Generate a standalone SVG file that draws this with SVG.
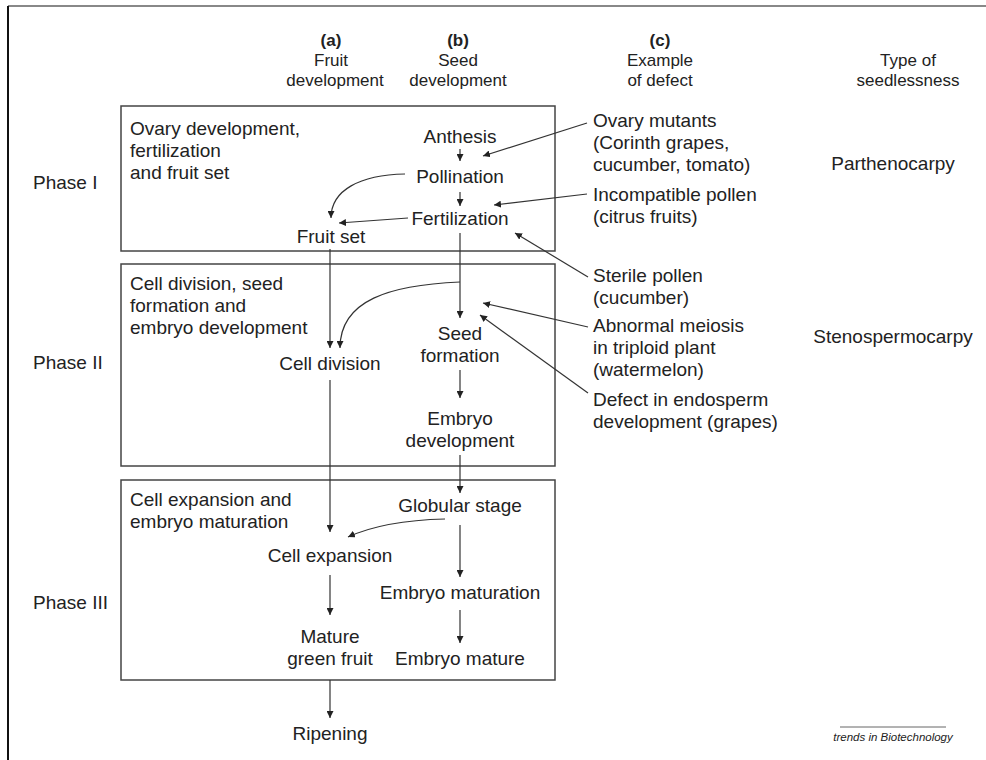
<svg xmlns="http://www.w3.org/2000/svg" width="986" height="760" viewBox="0 0 986 760">
<defs>
<marker id="ah" viewBox="0 0 10 10" refX="10" refY="5" markerWidth="7" markerHeight="7" markerUnits="userSpaceOnUse" orient="auto">
<path d="M0,0 L10,5 L0,10 z" fill="#222"/>
</marker>
<style>
text{font-family:"Liberation Sans",Arial,sans-serif;fill:#222}
.t{font-size:19px}
.h{font-size:17px}
.b{font-weight:bold}
.m{text-anchor:middle}
.box{fill:none;stroke:#444;stroke-width:1.5}
.c{fill:none;stroke:#333;stroke-width:1.2;marker-end:url(#ah)}
.l{fill:none;stroke:#333;stroke-width:1.2}
</style>
</defs>
<rect width="986" height="760" fill="#fff"/>
<line x1="8" y1="6" x2="986" y2="6" stroke="#888" stroke-width="2"/>
<line x1="8" y1="6" x2="8" y2="760" stroke="#111" stroke-width="2"/>

<g id="headers">
<text class="h b m" x="331" y="46">(a)</text>
<text class="h m" x="331" y="66">Fruit</text>
<text class="h m" x="335" y="86">development</text>
<text class="h b m" x="458" y="46">(b)</text>
<text class="h m" x="458" y="66">Seed</text>
<text class="h m" x="458" y="86">development</text>
<text class="h b m" x="660" y="46">(c)</text>
<text class="h m" x="660" y="66">Example</text>
<text class="h m" x="660" y="86">of defect</text>
<text class="h m" x="908" y="66">Type of</text>
<text class="h m" x="908" y="86">seedlessness</text>
</g>

<g id="phase1">
<rect class="box" x="121" y="106" width="434" height="145"/>
<text class="t" x="130" y="135">Ovary development,</text>
<text class="t" x="130" y="157">fertilization</text>
<text class="t" x="130" y="179">and fruit set</text>
<text class="t" x="33" y="189">Phase I</text>
</g>
<g id="phase2">
<rect class="box" x="121" y="264" width="434" height="202"/>
<text class="t" x="130" y="290">Cell division, seed</text>
<text class="t" x="130" y="312">formation and</text>
<text class="t" x="130" y="334">embryo development</text>
<text class="t" x="33" y="369">Phase II</text>
</g>
<g id="phase3">
<rect class="box" x="121" y="480" width="434" height="200"/>
<text class="t" x="130" y="506">Cell expansion and</text>
<text class="t" x="130" y="528">embryo maturation</text>
<text class="t" x="33" y="609">Phase III</text>
</g>

<g id="anthesis"><text class="t m" x="460" y="143">Anthesis</text></g>
<g id="pollination"><text class="t m" x="460" y="183">Pollination</text></g>
<g id="fertilization"><text class="t m" x="460" y="225">Fertilization</text></g>
<g id="fruit-set"><text class="t m" x="331" y="243">Fruit set</text></g>
<g id="cell-division"><text class="t m" x="330" y="370">Cell division</text></g>
<g id="seed-formation"><text class="t m" x="460" y="340">Seed</text><text class="t m" x="460" y="362">formation</text></g>
<g id="embryo-development"><text class="t m" x="460" y="425">Embryo</text><text class="t m" x="460" y="447">development</text></g>
<g id="globular-stage"><text class="t m" x="460" y="512">Globular stage</text></g>
<g id="cell-expansion"><text class="t m" x="330" y="562">Cell expansion</text></g>
<g id="embryo-maturation"><text class="t m" x="460" y="599">Embryo maturation</text></g>
<g id="mature-green-fruit"><text class="t m" x="330" y="643">Mature</text><text class="t m" x="330" y="665">green fruit</text></g>
<g id="embryo-mature"><text class="t m" x="460" y="665">Embryo mature</text></g>
<g id="ripening"><text class="t m" x="330" y="740">Ripening</text></g>

<g id="ovary-mutants"><text class="t" x="593" y="127">Ovary mutants</text><text class="t" x="593" y="149">(Corinth grapes,</text><text class="t" x="593" y="171">cucumber, tomato)</text></g>
<g id="incompatible-pollen"><text class="t" x="593" y="201">Incompatible pollen</text><text class="t" x="593" y="223">(citrus fruits)</text></g>
<g id="sterile-pollen"><text class="t" x="593" y="282">Sterile pollen</text><text class="t" x="593" y="304">(cucumber)</text></g>
<g id="abnormal-meiosis"><text class="t" x="593" y="332">Abnormal meiosis</text><text class="t" x="593" y="354">in triploid plant</text><text class="t" x="593" y="376">(watermelon)</text></g>
<g id="endosperm-defect"><text class="t" x="593" y="406">Defect in endosperm</text><text class="t" x="593" y="428">development (grapes)</text></g>

<g id="parthenocarpy"><text class="t m" x="893" y="170">Parthenocarpy</text></g>
<g id="stenospermocarpy"><text class="t m" x="893" y="343">Stenospermocarpy</text></g>

<g id="credit">
<line x1="840" y1="727" x2="946" y2="727" stroke="#666" stroke-width="1"/>
<text x="893" y="741" font-size="11.5" font-style="italic" text-anchor="middle">trends in Biotechnology</text>
</g>

<g id="connectors">
<path class="c" d="M460,149 L460,161"/>
<path class="c" d="M460,192 L460,206"/>
<path class="c" d="M405,174 C360,175 331,190 331,218"/>
<path class="c" d="M408,218 L339,223"/>
<path class="c" d="M330,249 L330,348"/>
<path class="l" d="M460,233 L460,282"/>
<path class="c" d="M460,282 L460,318"/>
<path class="c" d="M460,282 C390,285 340,300 340,348"/>
<path class="c" d="M460,370 L460,398"/>
<path class="c" d="M330,380 L330,532"/>
<path class="c" d="M460,455 L460,493"/>
<path class="c" d="M445,519 C405,520 372,526 348,537"/>
<path class="c" d="M460,525 L460,577"/>
<path class="c" d="M330,575 L330,615"/>
<path class="c" d="M460,610 L460,643"/>
<path class="c" d="M330,680 L330,718"/>
<path class="c" d="M587,123 L483,156"/>
<path class="c" d="M587,194 L494,205"/>
<path class="c" d="M588,277 L515,233"/>
<path class="c" d="M588,327 L483,303"/>
<path class="c" d="M588,393 L480,315"/>
</g>
</svg>
